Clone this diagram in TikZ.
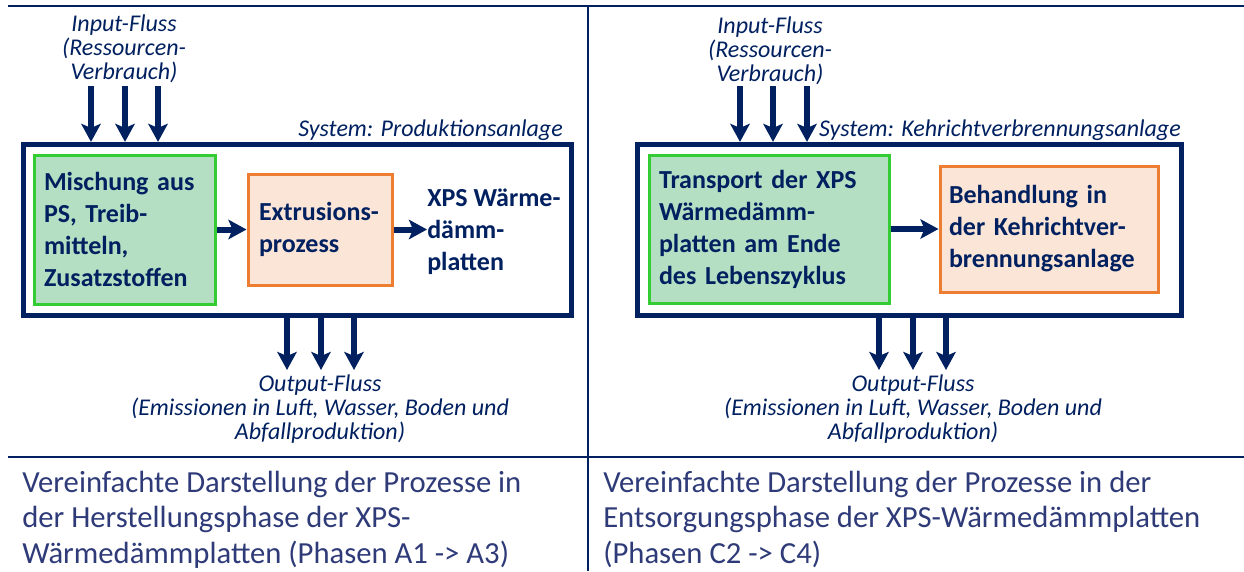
\documentclass[tikz,border=0pt]{standalone}
\usepackage{fontspec}
\setmainfont{Carlito}
\usetikzlibrary{arrows.meta,positioning}
\definecolor{navy}{HTML}{002060}
\definecolor{capblue}{HTML}{2E3B78}
\definecolor{gbord}{HTML}{33CC33}
\definecolor{gfill}{HTML}{B4DFC2}
\definecolor{obord}{HTML}{ED7D31}
\definecolor{ofill}{HTML}{FBE5D6}
\newcommand\blockfont{\fontsize{19.5}{24}\selectfont\bfseries}
\newcommand\flowfont{\fontsize{18}{18}\selectfont\itshape}
\newcommand\capfont{\fontsize{23}{26.5}\selectfont}
\tikzset{
    every node/.style={text=navy},
    system node/.style={draw=navy, line width=3.75pt, inner sep=0pt},
    green node/.style={draw=gbord, fill=gfill, line width=2.25pt,
        inner ysep=0pt, align=left, font=\blockfont},
    orange node/.style={draw=obord, fill=ofill, line width=2.25pt,
        inner ysep=0pt, align=left, font=\blockfont},
    flow text/.style={font=\flowfont, align=center, inner sep=0pt},
    caption text/.style={font=\capfont, text=capblue, align=left, inner sep=0pt},
    flow/.style={draw=navy, line width=4.5pt,
        -{Stealth[length=13.5pt,width=14.5pt,inset=3pt]}},
    rule/.style={draw=navy}
}

\begin{document}
\begin{tikzpicture}[x=0.75pt,y=-0.75pt]
    \path[use as bounding box, fill=white] (0,0) rectangle (1244,571);

    % frame lines
    \draw[rule, line width=1.5pt] (8,6) -- (1244,6);
    \draw[rule, line width=1.9pt] (8,457) -- (1244,457);
    \draw[rule, line width=1.2pt] (588,6) -- (588,571);

    % left: Herstellung
    \node[system node, minimum width=411pt, minimum height=128pt] (sysA) at (297.5,229.75) {};
    \node[flow text, anchor=base east] (labA) at (563,136) {System: Produktionsanlage};
    \node[green node, inner xsep=7.5pt, text width=120.75pt, minimum height=111.75pt]
        (mixA) at (124.5,229.5) {Mischung aus\\PS, Treib-\\mitteln,\\Zusatzstoffen};
    \node[orange node, inner xsep=8.25pt, text width=91.5pt, minimum height=83.25pt]
        (extA) at (320,229.5) {Extrusions-\\prozess};
    \node[font=\blockfont, align=left, inner xsep=0pt, anchor=west]
        (xpsA) at (427,232) {XPS Wärme-\\dämm-\\platten};
    \draw[flow] (mixA.east) -- (extA.west);
    \draw[flow] (extA.east) -- (extA.east -| xpsA.west);

    \node[flow text] (inA) at (124,49) {Input-Fluss\\(Ressourcen-\\Verbrauch)};
    \foreach \x [count=\i] in {91,125,158} {
        \coordinate (inA\i) at (\x,86);
        \draw[flow] (inA\i) -- (inA\i |- sysA.north);
    }
    \foreach \x [count=\i] in {287,321,354} {
        \coordinate (outA\i) at (\x,370);
        \draw[flow] (outA\i |- sysA.south) -- (outA\i);
    }
    \node[flow text] (outA) at (320,409) {Output-Fluss\\(Emissionen in Luft, Wasser, Boden und\\Abfallproduktion)};

    % right: Entsorgung
    \node[system node, minimum width=408pt, minimum height=128pt] (sysB) at (909.5,229.75) {};
    \node[flow text, anchor=base east] (labB) at (1181,136) {System: Kehrichtverbrennungsanlage};
    \node[green node, inner xsep=7.5pt, text width=165pt, minimum height=111pt]
        (trB) at (769,229) {Transport der XPS\\Wärmedämm-\\platten am Ende\\des Lebenszyklus};
    \node[orange node, inner xsep=6.75pt, text width=150pt, minimum height=94.5pt]
        (kvaB) at (1049,229) {Behandlung in\\der Kehrichtver-\\brennungsanlage};
    \draw[flow] (trB.east) -- (kvaB.west);

    \node[flow text] (inB) at (770,51) {Input-Fluss\\(Ressourcen-\\Verbrauch)};
    \foreach \x [count=\i] in {740,773,807} {
        \coordinate (inB\i) at (\x,86);
        \draw[flow] (inB\i) -- (inB\i |- sysB.north);
    }
    \foreach \x [count=\i] in {879,913,946} {
        \coordinate (outB\i) at (\x,370);
        \draw[flow] (outB\i |- sysB.south) -- (outB\i);
    }
    \node[flow text] (outB) at (913,409) {Output-Fluss\\(Emissionen in Luft, Wasser, Boden und\\Abfallproduktion)};

    % captions
    \node[caption text, anchor=north west] (capA) at (22,471)
        {Vereinfachte Darstellung der Prozesse in\\der Herstellungsphase der XPS-\\Wärmedämmplatten (Phasen A1 -> A3)};
    \node[caption text, anchor=north west] (capB) at (603,471)
        {Vereinfachte Darstellung der Prozesse in der\\Entsorgungsphase der XPS-Wärmedämmplatten\\(Phasen C2 -> C4)};
\end{tikzpicture}
\end{document}
